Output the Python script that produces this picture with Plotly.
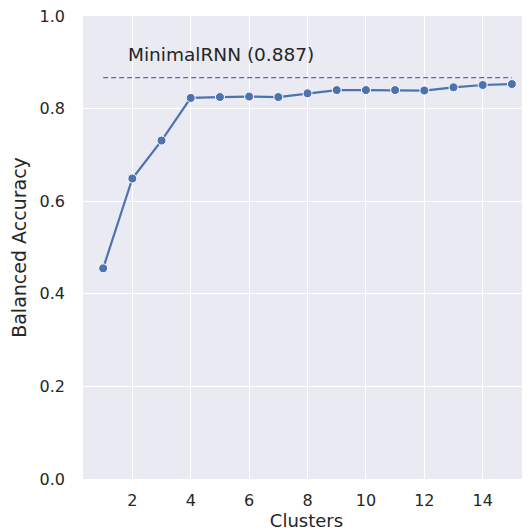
import plotly.graph_objects as go

clusters = list(range(1, 16))
balanced_accuracy = [0.455, 0.649, 0.731, 0.823, 0.825, 0.826, 0.825, 0.833,
                     0.840, 0.840, 0.840, 0.839, 0.846, 0.851, 0.853]
baseline_label = "MinimalRNN (0.887)"
baseline_value = 0.867
y_ticks = [0.0, 0.2, 0.4, 0.6, 0.8, 1.0]
x_ticks = [2, 4, 6, 8, 10, 12, 14]

blue = "#4C72B0"
txt = "#262626"
font = "DejaVu Sans"

fig = go.Figure()
fig.add_trace(go.Scatter(
    x=[clusters[0], clusters[-1]], y=[baseline_value, baseline_value],
    mode="lines", line=dict(color=blue, width=1.3, dash="5px,3px"),
    showlegend=False, hoverinfo="skip"))
fig.add_trace(go.Scatter(
    x=clusters, y=balanced_accuracy, mode="lines+markers",
    line=dict(color=blue, width=2.2),
    marker=dict(color=blue, size=9, line=dict(color="white", width=1)),
    showlegend=False))
fig.add_annotation(x=1.78, y=0.917, text=baseline_label, showarrow=False,
                   xanchor="left", yanchor="middle",
                   font=dict(family=font, size=18.5, color=txt))

# page body has an 8px margin, so the figure is offset by 8px
fig.update_layout(
    width=522, height=524,
    margin=dict(l=75, r=0, t=8, b=53),
    paper_bgcolor="white", plot_bgcolor="#EAEAF2",
    font=dict(family=font, size=16, color=txt),
    xaxis=dict(range=[0.31, 15.62], tickvals=x_ticks, showgrid=True,
               gridcolor="white", gridwidth=1.2, zeroline=False, showline=False,
               ticks="", ticklabelstandoff=10, automargin=False,
               ticklabeloverflow="allow",
               title=dict(text="Clusters", font=dict(size=18, color=txt), standoff=5)),
    yaxis=dict(range=[0, 1], tickvals=y_ticks, tickformat=".1f", showgrid=True,
               gridcolor="white", gridwidth=1.2, zeroline=False, showline=False,
               ticks="", ticklabelstandoff=17, automargin=False,
               ticklabeloverflow="allow",
               title=dict(text="Balanced Accuracy", font=dict(size=19, color=txt), standoff=10)),
)
fig.write_html("out.html")
